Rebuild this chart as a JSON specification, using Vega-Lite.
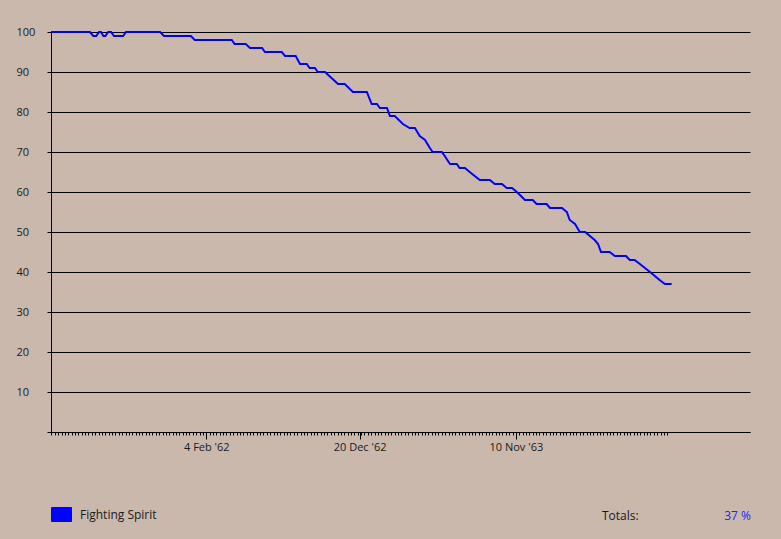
{
  "$schema": "https://vega.github.io/schema/vega-lite/v6.json",
  "width": 699,
  "height": 400,
  "autosize": {"type": "none"},
  "padding": {"left": 51, "top": 32, "right": 31, "bottom": 107},
  "background": "#cab8ad",
  "config": {
    "view": {"stroke": null},
    "font": "Segoe UI, Open Sans, sans-serif",
    "axis": {"labelFont": "Segoe UI, Open Sans, sans-serif", "labelColor": "#1a1a1a", "labelFontSize": 11}
  },
  "datasets": {
    "spirit": [
      {"date": "1961-03-18", "value": 100},
      {"date": "1961-06-07", "value": 100},
      {"date": "1961-06-14", "value": 99},
      {"date": "1961-06-20", "value": 99},
      {"date": "1961-06-26", "value": 100},
      {"date": "1961-06-30", "value": 100},
      {"date": "1961-07-05", "value": 99},
      {"date": "1961-07-09", "value": 99},
      {"date": "1961-07-15", "value": 100},
      {"date": "1961-07-21", "value": 100},
      {"date": "1961-07-27", "value": 99},
      {"date": "1961-08-15", "value": 99},
      {"date": "1961-08-21", "value": 100},
      {"date": "1961-10-31", "value": 100},
      {"date": "1961-11-08", "value": 99},
      {"date": "1962-01-03", "value": 99},
      {"date": "1962-01-11", "value": 98},
      {"date": "1962-03-29", "value": 98},
      {"date": "1962-04-04", "value": 97},
      {"date": "1962-04-27", "value": 97},
      {"date": "1962-05-06", "value": 96},
      {"date": "1962-05-31", "value": 96},
      {"date": "1962-06-06", "value": 95},
      {"date": "1962-07-11", "value": 95},
      {"date": "1962-07-18", "value": 94},
      {"date": "1962-08-09", "value": 94},
      {"date": "1962-08-18", "value": 92},
      {"date": "1962-09-01", "value": 92},
      {"date": "1962-09-07", "value": 91},
      {"date": "1962-09-18", "value": 91},
      {"date": "1962-09-24", "value": 90},
      {"date": "1962-10-09", "value": 90},
      {"date": "1962-11-05", "value": 87},
      {"date": "1962-11-19", "value": 87},
      {"date": "1962-12-06", "value": 85},
      {"date": "1963-01-04", "value": 85},
      {"date": "1963-01-14", "value": 82},
      {"date": "1963-01-25", "value": 82},
      {"date": "1963-01-31", "value": 81},
      {"date": "1963-02-15", "value": 81},
      {"date": "1963-02-21", "value": 79},
      {"date": "1963-03-03", "value": 79},
      {"date": "1963-03-20", "value": 77},
      {"date": "1963-04-03", "value": 76},
      {"date": "1963-04-14", "value": 76},
      {"date": "1963-04-24", "value": 74},
      {"date": "1963-05-05", "value": 73},
      {"date": "1963-05-15", "value": 71},
      {"date": "1963-05-21", "value": 70},
      {"date": "1963-06-09", "value": 70},
      {"date": "1963-06-15", "value": 69},
      {"date": "1963-06-26", "value": 67},
      {"date": "1963-07-10", "value": 67},
      {"date": "1963-07-16", "value": 66},
      {"date": "1963-07-27", "value": 66},
      {"date": "1963-08-06", "value": 65},
      {"date": "1963-08-27", "value": 63},
      {"date": "1963-09-17", "value": 63},
      {"date": "1963-09-27", "value": 62},
      {"date": "1963-10-12", "value": 62},
      {"date": "1963-10-22", "value": 61},
      {"date": "1963-11-02", "value": 61},
      {"date": "1963-11-12", "value": 60},
      {"date": "1963-11-29", "value": 58},
      {"date": "1963-12-15", "value": 58},
      {"date": "1963-12-23", "value": 57},
      {"date": "1964-01-13", "value": 57},
      {"date": "1964-01-20", "value": 56},
      {"date": "1964-02-14", "value": 56},
      {"date": "1964-02-24", "value": 55},
      {"date": "1964-03-01", "value": 53},
      {"date": "1964-03-12", "value": 52},
      {"date": "1964-03-22", "value": 50},
      {"date": "1964-04-02", "value": 50},
      {"date": "1964-04-12", "value": 49},
      {"date": "1964-04-22", "value": 48},
      {"date": "1964-04-29", "value": 47},
      {"date": "1964-05-05", "value": 45},
      {"date": "1964-05-23", "value": 45},
      {"date": "1964-06-03", "value": 44},
      {"date": "1964-06-26", "value": 44},
      {"date": "1964-07-04", "value": 43},
      {"date": "1964-07-14", "value": 43},
      {"date": "1964-07-25", "value": 42},
      {"date": "1964-08-15", "value": 40},
      {"date": "1964-09-04", "value": 38},
      {"date": "1964-09-15", "value": 37},
      {"date": "1964-09-29", "value": 37}
    ]
  },
  "resolve": {"axis": {"x": "independent"}},
  "layer": [
    {
      "data": {"name": "spirit"},
      "mark": {"type": "line", "color": "#0000ff", "strokeWidth": 2, "clip": false},
      "encoding": {
        "x": {
          "field": "date",
          "type": "temporal",
          "scale": {"type": "utc", "domain": [{"year": 1961, "month": 3, "date": 18, "utc": true}, {"year": 1965, "month": 3, "date": 11, "utc": true}], "nice": false},
          "axis": {
            "orient": "bottom",
            "title": null,
            "labels": false,
            "grid": false,
            "domain": true,
            "domainColor": "black",
            "domainWidth": 1,
            "tickCount": {"interval": "week", "step": 1},
            "tickSize": 3,
            "tickWidth": 1,
            "tickColor": {"condition": {"test": "datum.value <= utc(1964, 8, 21)", "value": "black"}, "value": "transparent"}
          }
        },
        "y": {
          "field": "value",
          "type": "quantitative",
          "scale": {"domain": [0, 100], "nice": false},
          "axis": {
            "title": null,
            "values": [0, 10, 20, 30, 40, 50, 60, 70, 80, 90, 100],
            "labelExpr": "datum.value == 0 ? '' : datum.label",
            "labelOverlap": false,
            "grid": true,
            "gridColor": "black",
            "gridOpacity": 1,
            "gridWidth": 1,
            "domain": true,
            "domainColor": "black",
            "tickColor": "black",
            "tickSize": 4,
            "labelAlign": "left",
            "labelPadding": 31
          }
        },
        "color": {
          "datum": "Fighting Spirit",
          "scale": {"range": ["#0000ff"]},
          "legend": {
            "title": null,
            "orient": "none",
            "legendX": 0,
            "legendY": 472,
            "padding": 0,
            "symbolType": "M-1,-0.7H1V0.7H-1Z",
            "symbolSize": 400,
            "labelFontSize": 12,
            "labelFont": "Segoe UI, Open Sans, sans-serif",
            "labelColor": "#1a1a1a",
            "labelOffset": 8,
            "encode": {"symbols": {"update": {"fill": {"value": "#0000ff"}, "fillOpacity": {"value": 1}, "stroke": {"value": "black"}, "strokeWidth": {"value": 1}, "opacity": {"value": 1}}}}
          }
        }
      }
    },
    {
      "data": {"values": [{}]},
      "mark": {"type": "text", "text": "Totals:", "align": "left", "baseline": "middle", "fontSize": 12, "color": "#1a1a1a", "clip": false},
      "encoding": {
        "x": {
          "datum": {"year": 1964, "month": 5, "date": 7, "utc": true},
          "type": "temporal",
          "scale": {"type": "utc", "domain": [{"year": 1961, "month": 3, "date": 18, "utc": true}, {"year": 1965, "month": 3, "date": 11, "utc": true}], "nice": false},
          "axis": {
            "orient": "bottom",
            "title": null,
            "domain": false,
            "grid": false,
            "values": [
              {"year": 1962, "month": 2, "date": 4, "utc": true},
              {"year": 1962, "month": 12, "date": 20, "utc": true},
              {"year": 1963, "month": 11, "date": 10, "utc": true}
            ],
            "format": "%-d %b '%y",
            "tickColor": "black",
            "tickSize": 7,
            "labelPadding": 2,
            "labelFlush": false
          }
        },
        "y": {
          "datum": -21,
          "type": "quantitative",
          "scale": {"domain": [0, 100], "nice": false},
          "axis": {
            "title": null,
            "values": [0, 10, 20, 30, 40, 50, 60, 70, 80, 90, 100],
            "labelExpr": "datum.value == 0 ? '' : datum.label",
            "labelOverlap": false,
            "grid": true,
            "gridColor": "black",
            "gridOpacity": 1,
            "gridWidth": 1,
            "domain": true,
            "domainColor": "black",
            "tickColor": "black",
            "tickSize": 4,
            "labelAlign": "left",
            "labelPadding": 31
          }
        }
      }
    },
    {
      "data": {"values": [{}]},
      "mark": {"type": "text", "text": "37 %", "align": "right", "baseline": "middle", "fontSize": 12, "color": "#2323ff", "clip": false, "dx": 1},
      "encoding": {
        "x": {
          "datum": {"year": 1965, "month": 3, "date": 11, "utc": true},
          "type": "temporal",
          "scale": {"type": "utc", "domain": [{"year": 1961, "month": 3, "date": 18, "utc": true}, {"year": 1965, "month": 3, "date": 11, "utc": true}], "nice": false},
          "axis": null
        },
        "y": {
          "datum": -21,
          "type": "quantitative",
          "scale": {"domain": [0, 100], "nice": false},
          "axis": {
            "title": null,
            "values": [0, 10, 20, 30, 40, 50, 60, 70, 80, 90, 100],
            "labelExpr": "datum.value == 0 ? '' : datum.label",
            "labelOverlap": false,
            "grid": true,
            "gridColor": "black",
            "gridOpacity": 1,
            "gridWidth": 1,
            "domain": true,
            "domainColor": "black",
            "tickColor": "black",
            "tickSize": 4,
            "labelAlign": "left",
            "labelPadding": 31
          }
        }
      }
    }
  ]
}
